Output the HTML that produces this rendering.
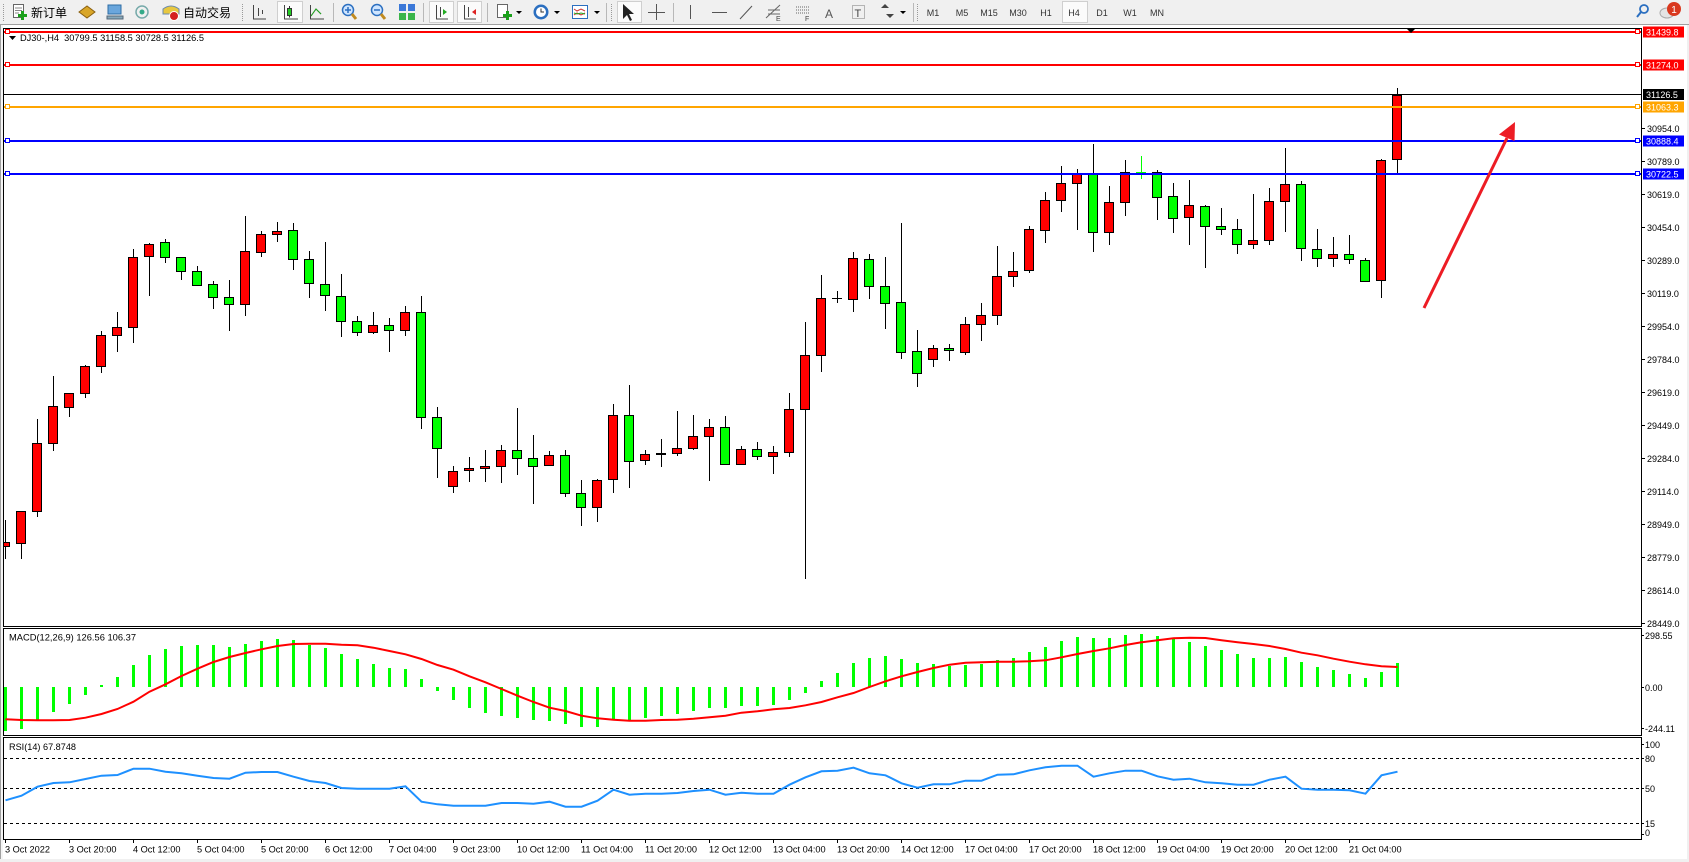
<!DOCTYPE html>
<html><head><meta charset="utf-8">
<style>
html,body{margin:0;padding:0;background:#fff;overflow:hidden;}
svg{display:block;font-family:"Liberation Sans","Noto Sans CJK SC",sans-serif;}
.r{fill:#ff0000;stroke:#000;}
.g{fill:#00ff00;stroke:#000;}
</style></head><body>
<svg width="1689" height="862" viewBox="0 0 1689 862" xmlns="http://www.w3.org/2000/svg">
<defs>
<clipPath id="mc"><rect x="4" y="29" width="1637" height="597"/></clipPath>
</defs>
<rect x="0" y="0" width="1689" height="862" fill="#fff"/>
<!-- toolbar -->
<rect x="0" y="0" width="1689" height="24" fill="#f0f0f0"/>
<line x1="0" y1="24.5" x2="1689" y2="24.5" stroke="#a0a0a0"/>
<g shape-rendering="crispEdges">
<path d="M3.5 4V21M242.5 4V21M611.5 4V21M917.5 4V21" stroke="#9a9a9a" stroke-dasharray="1 1"/>
<path d="M333.5 3V22M423.5 3V22M487.5 3V22M606.5 3V22M673.5 3V22M913.5 3V22" stroke="#b8b8b8"/>
<rect x="277.5" y="1.5" width="25" height="21" fill="#fbfbfb" stroke="#cfcfcf"/>
<rect x="429.5" y="1.5" width="24" height="21" fill="#fbfbfb" stroke="#cfcfcf"/>
<rect x="457.5" y="1.5" width="24" height="21" fill="#fbfbfb" stroke="#cfcfcf"/>
<rect x="617.5" y="1.5" width="24" height="21" fill="#fbfbfb" stroke="#cfcfcf"/>
<rect x="1062.5" y="1.5" width="25" height="21" fill="#fbfbfb" stroke="#cfcfcf"/>
</g>
<!-- new order -->
<rect x="13.5" y="4.5" width="10" height="13" fill="#fff" stroke="#666"/>
<path d="M15 8h7M15 10.5h7M15 13h4" stroke="#888"/>
<path d="M22.5 11v9M18 15.5h9" stroke="#1aa01a" stroke-width="3"/>
<text x="31" y="17" font-size="12" fill="#000">新订单</text>
<path d="M79 12l8-6 8 6-8 6z" fill="#d9a628" stroke="#8a6010"/>
<rect x="108" y="5" width="13" height="9" fill="#6aa6dc" stroke="#2e6da4"/>
<path d="M107 16h16v3h-16z" fill="#8ab" stroke="#567"/>
<circle cx="142" cy="12" r="6" fill="none" stroke="#7aa" stroke-width="1.5"/>
<circle cx="142" cy="12" r="2.5" fill="#3a8"/>
<path d="M163 9q8-6 16 0v5h-16z" fill="#e8c840" stroke="#6a8ab0"/>
<circle cx="174" cy="16" r="4.5" fill="#d42020" stroke="#fff"/>
<text x="183" y="17" font-size="12" fill="#000">自动交易</text>
<!-- chart type icons -->
<path d="M253.5 5V19H266M258.5 8V16M262.5 10V14" stroke="#444" fill="none"/>
<path d="M284.5 5V19H298" stroke="#444" fill="none"/><rect x="287.5" y="8.5" width="4" height="7" fill="#2c2" stroke="#333"/><path d="M289.5 6v2.5M289.5 15.5v2" stroke="#333"/>
<path d="M310.5 5V19H324M311 16l5-7 5 5" stroke="#444" fill="none"/><path d="M311 16l5-7 5 5" stroke="#2a2" fill="none"/>
<circle cx="348" cy="10" r="5.5" fill="#cfe5ff" stroke="#2b6fc0" stroke-width="1.5"/><path d="M345 10h6M348 7v6" stroke="#2b6fc0" stroke-width="1.5"/><path d="M352 14l4 5" stroke="#c08a20" stroke-width="3"/>
<circle cx="377" cy="10" r="5.5" fill="#cfe5ff" stroke="#2b6fc0" stroke-width="1.5"/><path d="M374 10h6" stroke="#2b6fc0" stroke-width="1.5"/><path d="M381 14l4 5" stroke="#c08a20" stroke-width="3"/>
<rect x="399" y="4" width="7" height="7" fill="#3b78d8"/><rect x="408" y="4" width="7" height="7" fill="#3b78d8"/><rect x="399" y="13" width="7" height="7" fill="#3ab54a"/><rect x="408" y="13" width="7" height="7" fill="#3ab54a"/>
<path d="M436.5 5V19H448M440.5 7V17" stroke="#444" fill="none"/><path d="M443 9l4 3-4 3z" fill="#2a2"/>
<path d="M464.5 5V19H476M468.5 7V17" stroke="#444" fill="none"/><path d="M476 9l-4 3 4 3z" fill="#d22"/>
<rect x="497.5" y="4.5" width="10" height="13" fill="#fff" stroke="#666"/><path d="M507.5 11v9M503 15.5h9" stroke="#1aa01a" stroke-width="3"/>
<path d="M516 11h6l-3 3z" fill="#000"/>
<circle cx="541" cy="12" r="7.5" fill="#2b6fc0"/><circle cx="541" cy="12" r="5" fill="#fff"/><path d="M541 8.5V12h3" stroke="#333" fill="none"/>
<path d="M554 11h6l-3 3z" fill="#000"/>
<rect x="572.5" y="5.5" width="15" height="13" fill="#fff" stroke="#2b6fc0"/><path d="M574 9l3 2 4-2 4 2M574 15l3-2 4 2 4-2" stroke="#c33" fill="none"/><path d="M574 13l3 1 4-1 4 1" stroke="#2a2" fill="none"/>
<path d="M594 11h6l-3 3z" fill="#000"/>
<path d="M623 4v15l4-4 3 6 2-1-3-6h5z" fill="#222"/>
<path d="M656.5 4V20M648 12.5h17" stroke="#555"/>
<path d="M690.5 5V19" stroke="#555"/>
<path d="M712 12.5h15" stroke="#555"/>
<path d="M740 19l12-13" stroke="#555"/>
<path d="M766 18l14-13M768 10h12M768 14h12" stroke="#666"/><text x="776" y="21" font-size="7" fill="#444">E</text>
<path d="M796 7h13M796 10h13M796 13h13" stroke="#666" stroke-dasharray="1 1"/><text x="805" y="21" font-size="7" fill="#444">F</text>
<text x="825" y="18" font-size="12" fill="#555">A</text>
<rect x="852.5" y="5.5" width="12" height="13" fill="none" stroke="#777" stroke-dasharray="1 1"/><text x="854.5" y="17" font-size="11" fill="#444">T</text>
<path d="M881 8l4-4 4 4zM886 14l4 4 4-4z" fill="#444"/>
<path d="M900 11h6l-3 3z" fill="#000"/>
<g font-size="9" fill="#333" text-anchor="middle">
<text x="933" y="16">M1</text><text x="962" y="16">M5</text><text x="989" y="16">M15</text><text x="1018" y="16">M30</text><text x="1046" y="16">H1</text><text x="1074" y="16">H4</text><text x="1102" y="16">D1</text><text x="1130" y="16">W1</text><text x="1157" y="16">MN</text>
</g>
<circle cx="1644" cy="9" r="4" fill="none" stroke="#2b6fc0" stroke-width="1.8"/><path d="M1641 12l-4 5" stroke="#2b6fc0" stroke-width="2"/>
<ellipse cx="1667" cy="13" rx="7" ry="5" fill="#e4e4e4" stroke="#aaa"/>
<circle cx="1674" cy="9" r="7" fill="#d9381e"/><text x="1674" y="13" font-size="10" fill="#fff" text-anchor="middle">1</text>

<!-- window frame -->
<rect x="0" y="25" width="1" height="837" fill="#a0a0a0"/>
<rect x="1" y="25" width="2" height="837" fill="#f4f4f4"/>
<rect x="1687" y="25" width="2" height="837" fill="#f0f0f0"/>
<rect x="0" y="859" width="1689" height="3" fill="#f0f0f0"/>

<!-- candles -->
<g clip-path="url(#mc)" shape-rendering="crispEdges">
<path fill="none" stroke="#000" d="M5.5 520V559M21.5 511V559M37.5 419V517M53.5 376V451M69.5 393V417M85.5 365V398M101.5 331V373M117.5 312V352M133.5 249V343M149.5 243V296M165.5 239V263M181.5 257V280M197.5 266V286M213.5 281V309M229.5 280V331M245.5 216V316M261.5 231V257M277.5 222V242M293.5 223V270M309.5 251V298M325.5 242V311M341.5 274V337M357.5 316V336M373.5 312V334M389.5 318V352M405.5 306V336M421.5 296V429M437.5 407V478M453.5 466V493M469.5 457V482M485.5 450V482M501.5 445V483M517.5 408V475M533.5 435V504M549.5 451V466M565.5 450V497M581.5 480V526M597.5 479V522M613.5 404V493M629.5 385V488M645.5 450V465M661.5 439V467M677.5 411V456M693.5 415V450M709.5 419V481M725.5 416V465M741.5 446V465M757.5 442V460M773.5 446V474M789.5 393V457M805.5 322V579M821.5 275V372M837.5 291V303M853.5 252V312M869.5 254V299M885.5 257V329M901.5 223V359M917.5 330V387M933.5 345V367M949.5 344V361M965.5 317V355M981.5 303V341M997.5 246V325M1013.5 252V287M1029.5 226V273M1045.5 192V243M1061.5 166V212M1077.5 169V230M1093.5 144V252M1109.5 186V245M1125.5 160V216M1157.5 170V220M1173.5 183V233M1189.5 180V245M1205.5 205V268M1221.5 208V235M1237.5 219V254M1253.5 194V249M1269.5 188V245M1285.5 148V232M1301.5 181V261M1317.5 229V267M1333.5 237V267M1349.5 235V264M1365.5 258V282M1381.5 159V298M1397.5 88V173M832 298.5h10"/>
<path fill="none" stroke="#00ff00" d="M1141.5 156V179M1136 172.5h10"/>
<rect x="656" y="453" width="10" height="2" fill="#000"/>
<rect class="r" x="0.5" y="542.5" width="9" height="4"/>
<rect class="r" x="16.5" y="511.5" width="9" height="32"/>
<rect class="r" x="32.5" y="443.5" width="9" height="68"/>
<rect class="r" x="48.5" y="406.5" width="9" height="37"/>
<rect class="r" x="64.5" y="393.5" width="9" height="14"/>
<rect class="r" x="80.5" y="366.5" width="9" height="27"/>
<rect class="r" x="96.5" y="335.5" width="9" height="31"/>
<rect class="r" x="112.5" y="327.5" width="9" height="8"/>
<rect class="r" x="128.5" y="257.5" width="9" height="70"/>
<rect class="r" x="144.5" y="244.5" width="9" height="12"/>
<rect class="g" x="160.5" y="242.5" width="9" height="15"/>
<rect class="g" x="176.5" y="257.5" width="9" height="14"/>
<rect class="g" x="192.5" y="271.5" width="9" height="14"/>
<rect class="g" x="208.5" y="284.5" width="9" height="13"/>
<rect class="g" x="224.5" y="297.5" width="9" height="7"/>
<rect class="r" x="240.5" y="251.5" width="9" height="53"/>
<rect class="r" x="256.5" y="234.5" width="9" height="18"/>
<rect class="r" x="272.5" y="231.5" width="9" height="3"/>
<rect class="g" x="288.5" y="230.5" width="9" height="29"/>
<rect class="g" x="304.5" y="259.5" width="9" height="24"/>
<rect class="g" x="320.5" y="284.5" width="9" height="11"/>
<rect class="g" x="336.5" y="296.5" width="9" height="25"/>
<rect class="g" x="352.5" y="321.5" width="9" height="11"/>
<rect class="r" x="368.5" y="325.5" width="9" height="7"/>
<rect class="g" x="384.5" y="325.5" width="9" height="5"/>
<rect class="r" x="400.5" y="312.5" width="9" height="18"/>
<rect class="g" x="416.5" y="312.5" width="9" height="105"/>
<rect class="g" x="432.5" y="417.5" width="9" height="31"/>
<rect class="r" x="448.5" y="471.5" width="9" height="15"/>
<rect class="r" x="464.5" y="468.5" width="9" height="2"/>
<rect class="r" x="480.5" y="466.5" width="9" height="2"/>
<rect class="r" x="496.5" y="450.5" width="9" height="16"/>
<rect class="g" x="512.5" y="450.5" width="9" height="8"/>
<rect class="g" x="528.5" y="458.5" width="9" height="8"/>
<rect class="r" x="544.5" y="455.5" width="9" height="10"/>
<rect class="g" x="560.5" y="455.5" width="9" height="38"/>
<rect class="g" x="576.5" y="493.5" width="9" height="14"/>
<rect class="r" x="592.5" y="480.5" width="9" height="27"/>
<rect class="r" x="608.5" y="415.5" width="9" height="64"/>
<rect class="g" x="624.5" y="415.5" width="9" height="46"/>
<rect class="r" x="640.5" y="454.5" width="9" height="6"/>
<rect class="r" x="672.5" y="448.5" width="9" height="5"/>
<rect class="r" x="688.5" y="436.5" width="9" height="12"/>
<rect class="r" x="704.5" y="427.5" width="9" height="9"/>
<rect class="g" x="720.5" y="427.5" width="9" height="37"/>
<rect class="r" x="736.5" y="449.5" width="9" height="15"/>
<rect class="g" x="752.5" y="449.5" width="9" height="7"/>
<rect class="r" x="768.5" y="452.5" width="9" height="4"/>
<rect class="r" x="784.5" y="409.5" width="9" height="43"/>
<rect class="r" x="800.5" y="355.5" width="9" height="54"/>
<rect class="r" x="816.5" y="298.5" width="9" height="57"/>
<rect class="r" x="848.5" y="258.5" width="9" height="41"/>
<rect class="g" x="864.5" y="259.5" width="9" height="27"/>
<rect class="g" x="880.5" y="286.5" width="9" height="17"/>
<rect class="g" x="896.5" y="302.5" width="9" height="50"/>
<rect class="g" x="912.5" y="351.5" width="9" height="22"/>
<rect class="r" x="928.5" y="348.5" width="9" height="11"/>
<rect class="g" x="944.5" y="348.5" width="9" height="2"/>
<rect class="r" x="960.5" y="324.5" width="9" height="28"/>
<rect class="r" x="976.5" y="315.5" width="9" height="9"/>
<rect class="r" x="992.5" y="276.5" width="9" height="39"/>
<rect class="r" x="1008.5" y="271.5" width="9" height="5"/>
<rect class="r" x="1024.5" y="229.5" width="9" height="41"/>
<rect class="r" x="1040.5" y="200.5" width="9" height="30"/>
<rect class="r" x="1056.5" y="183.5" width="9" height="17"/>
<rect class="r" x="1072.5" y="174.5" width="9" height="9"/>
<rect class="g" x="1088.5" y="174.5" width="9" height="58"/>
<rect class="r" x="1104.5" y="202.5" width="9" height="30"/>
<rect class="r" x="1120.5" y="172.5" width="9" height="30"/>
<rect class="g" x="1152.5" y="172.5" width="9" height="25"/>
<rect class="g" x="1168.5" y="196.5" width="9" height="22"/>
<rect class="r" x="1184.5" y="205.5" width="9" height="12"/>
<rect class="g" x="1200.5" y="206.5" width="9" height="20"/>
<rect class="g" x="1216.5" y="226.5" width="9" height="3"/>
<rect class="g" x="1232.5" y="229.5" width="9" height="15"/>
<rect class="r" x="1248.5" y="240.5" width="9" height="4"/>
<rect class="r" x="1264.5" y="201.5" width="9" height="39"/>
<rect class="r" x="1280.5" y="184.5" width="9" height="17"/>
<rect class="g" x="1296.5" y="184.5" width="9" height="64"/>
<rect class="g" x="1312.5" y="249.5" width="9" height="9"/>
<rect class="r" x="1328.5" y="254.5" width="9" height="4"/>
<rect class="g" x="1344.5" y="254.5" width="9" height="5"/>
<rect class="g" x="1360.5" y="260.5" width="9" height="21"/>
<rect class="r" x="1376.5" y="160.5" width="9" height="120"/>
<rect class="r" x="1392.5" y="95.5" width="9" height="64"/>

<!-- horizontal lines -->
<path d="M4 94.5H1641" stroke="#000"/>
<path d="M4 32H1641M4 65H1641" stroke="#ff0000" stroke-width="2"/>
<path d="M4 107H1641" stroke="#ffa500" stroke-width="2"/>
<path d="M4 141H1641M4 174H1641" stroke="#0000ff" stroke-width="2"/>
<g fill="#fff" stroke-width="1">
<rect x="5.5" y="29.5" width="4" height="4" stroke="#ff0000"/><rect x="1635.5" y="29.5" width="4" height="4" stroke="#ff0000"/>
<rect x="5.5" y="62.5" width="4" height="4" stroke="#ff0000"/><rect x="1635.5" y="62.5" width="4" height="4" stroke="#ff0000"/>
<rect x="5.5" y="104.5" width="4" height="4" stroke="#ffa500"/><rect x="1635.5" y="104.5" width="4" height="4" stroke="#ffa500"/>
<rect x="5.5" y="138.5" width="4" height="4" stroke="#0000ff"/><rect x="1635.5" y="138.5" width="4" height="4" stroke="#0000ff"/>
<rect x="5.5" y="171.5" width="4" height="4" stroke="#0000ff"/><rect x="1635.5" y="171.5" width="4" height="4" stroke="#0000ff"/>
</g>
</g>
<!-- arrow -->
<path d="M1424 308L1507 138" stroke="#ed1c24" stroke-width="3" fill="none"/>
<path d="M1515 122L1499 134.5L1514.5 141Z" fill="#ed1c24"/>
<!-- shift marker -->
<path d="M1407 29h8l-4 4z" fill="#000"/>

<!-- panel frames -->
<g fill="none" stroke="#000" shape-rendering="crispEdges">
<rect x="3.5" y="28.5" width="1638" height="598"/>
<rect x="3.5" y="628.5" width="1638" height="107"/>
<rect x="3.5" y="737.5" width="1638" height="102"/>
</g>

<!-- title -->
<path d="M9 36h7l-3.5 4z" fill="#000"/>
<text x="20" y="41" font-size="9" fill="#000" textLength="184" lengthAdjust="spacingAndGlyphs">DJ30-,H4&#160; 30799.5 31158.5 30728.5 31126.5</text>

<!-- price axis -->
<g stroke="#000" shape-rendering="crispEdges">
<path d="M1641 128.5h4M1641 161.5h4M1641 194.5h4M1641 227.5h4M1641 260.5h4M1641 293.5h4M1641 326.5h4M1641 359.5h4M1641 392.5h4M1641 425.5h4M1641 458.5h4M1641 491.5h4M1641 524.5h4M1641 557.5h4M1641 590.5h4M1641 623.5h4M1641 635.5h3M1641 687.5h3M1641 728.5h3M1641 744.5h3M1641 758.5h3M1641 788.5h3M1641 823.5h3M1641 834.5h3"/>
</g>
<g font-size="9" fill="#000">
<text x="1647" y="132">30954.0</text>
<text x="1647" y="165">30789.0</text>
<text x="1647" y="198">30619.0</text>
<text x="1647" y="231">30454.0</text>
<text x="1647" y="264">30289.0</text>
<text x="1647" y="297">30119.0</text>
<text x="1647" y="330">29954.0</text>
<text x="1647" y="363">29784.0</text>
<text x="1647" y="396">29619.0</text>
<text x="1647" y="429">29449.0</text>
<text x="1647" y="462">29284.0</text>
<text x="1647" y="495">29114.0</text>
<text x="1647" y="528">28949.0</text>
<text x="1647" y="561">28779.0</text>
<text x="1647" y="594">28614.0</text>
<text x="1647" y="627">28449.0</text>
<text x="1645" y="639">298.55</text>
<text x="1645" y="691">0.00</text>
<text x="1645" y="732">-244.11</text>
<text x="1645" y="748">100</text>
<text x="1645" y="762">80</text>
<text x="1645" y="792">50</text>
<text x="1645" y="827">15</text>
<text x="1645" y="836">0</text>
</g>
<!-- colored price labels -->
<rect x="1643" y="26.5" width="41" height="11" fill="#ff0000"/>
<rect x="1643" y="59.5" width="41" height="11" fill="#ff0000"/>
<rect x="1643" y="89" width="41" height="11" fill="#000"/>
<rect x="1643" y="101.5" width="41" height="11" fill="#ffa500"/>
<rect x="1643" y="135.5" width="41" height="11" fill="#0000ff"/>
<rect x="1643" y="168.5" width="41" height="11" fill="#0000ff"/>
<g font-size="9" fill="#fff">
<text x="1646" y="35.5">31439.8</text>
<text x="1646" y="68.5">31274.0</text>
<text x="1646" y="98">31126.5</text>
<text x="1646" y="110.5">31063.3</text>
<text x="1646" y="144.5">30888.4</text>
<text x="1646" y="177.5">30722.5</text>
</g>

<!-- MACD -->
<text x="9" y="640.5" font-size="9" fill="#000" textLength="127" lengthAdjust="spacingAndGlyphs">MACD(12,26,9) 126.56 106.37</text>
<path fill="none" stroke="#00ff00" stroke-width="3" shape-rendering="crispEdges" d="M5.5 687V731M21.5 687V729M37.5 687V720M53.5 687V712M69.5 687V704M85.5 687V695M101.5 687V685M117.5 687V677M133.5 687V665M149.5 687V655M165.5 687V649M181.5 687V646M197.5 687V645M213.5 687V645M229.5 687V647M245.5 687V644M261.5 687V641M277.5 687V639M293.5 687V640M309.5 687V645M325.5 687V648M341.5 687V654M357.5 687V659M373.5 687V664M389.5 687V668M405.5 687V669M421.5 687V679M437.5 687V691M453.5 687V700M469.5 687V708M485.5 687V713M501.5 687V716M517.5 687V718M533.5 687V720M549.5 687V721M565.5 687V724M581.5 687V727M597.5 687V727M613.5 687V720M629.5 687V720M645.5 687V718M661.5 687V716M677.5 687V714M693.5 687V711M709.5 687V708M725.5 687V708M741.5 687V706M757.5 687V706M773.5 687V705M789.5 687V700M805.5 687V693M821.5 687V681M837.5 687V673M853.5 687V663M869.5 687V658M885.5 687V656M901.5 687V659M917.5 687V663M933.5 687V664M949.5 687V666M965.5 687V665M981.5 687V664M997.5 687V660M1013.5 687V658M1029.5 687V652M1045.5 687V647M1061.5 687V641M1077.5 687V637M1093.5 687V638M1109.5 687V638M1125.5 687V635M1141.5 687V634M1157.5 687V636M1173.5 687V639M1189.5 687V642M1205.5 687V646M1221.5 687V650M1237.5 687V654M1253.5 687V658M1269.5 687V658M1285.5 687V657M1301.5 687V662M1317.5 687V667M1333.5 687V670M1349.5 687V674M1365.5 687V678M1381.5 687V672M1397.5 687V663"/>
<polyline fill="none" stroke="#ff0000" stroke-width="2" points="5.5,719.3 21.5,720 37.5,720.3 53.5,720.3 69.5,720 85.5,717.7 101.5,714 117.5,709 133.5,701.7 149.5,691.7 165.5,684.3 181.5,676 197.5,668.7 213.5,662 229.5,657 245.5,653 261.5,649.3 277.5,646 293.5,644 309.5,643.7 325.5,643.7 341.5,644.7 357.5,645.3 373.5,647.7 389.5,651 405.5,654.3 421.5,659 437.5,665 453.5,669.7 469.5,676.3 485.5,682.3 501.5,689 517.5,695.7 533.5,702 549.5,707.7 565.5,711 581.5,715.7 597.5,718.3 613.5,719.7 629.5,720.7 645.5,720.7 661.5,720 677.5,719.7 693.5,718.7 709.5,717.3 725.5,715.7 741.5,712.7 757.5,711.3 773.5,709.3 789.5,708 805.5,705.3 821.5,702 837.5,697.3 853.5,693 869.5,687 885.5,681.3 901.5,676.3 917.5,672 933.5,668 949.5,664.7 965.5,662.7 981.5,662.3 997.5,661.7 1013.5,661.7 1029.5,661.3 1045.5,660.3 1061.5,657.3 1077.5,654 1093.5,651 1109.5,648.3 1125.5,645 1141.5,642.3 1157.5,640.3 1173.5,638.3 1189.5,637.7 1205.5,638 1221.5,640.3 1237.5,642.3 1253.5,644 1269.5,646 1285.5,649 1301.5,652.7 1317.5,655.3 1333.5,658.7 1349.5,661.7 1365.5,664.3 1381.5,666.3 1397.5,667"/>

<!-- RSI -->
<text x="9" y="750" font-size="9" fill="#000" textLength="67" lengthAdjust="spacingAndGlyphs">RSI(14) 67.8748</text>
<path d="M4 758.5H1641M4 788.5H1641M4 823.5H1641" stroke="#000" stroke-dasharray="3 3" shape-rendering="crispEdges"/>
<polyline fill="none" stroke="#1e90ff" stroke-width="2" points="5.5,800.3 21.5,795.7 37.5,786.7 53.5,783 69.5,782.3 85.5,779 101.5,775.7 117.5,775 133.5,768.7 149.5,768.7 165.5,771.7 181.5,773.3 197.5,775.7 213.5,778 229.5,778.7 245.5,772.7 261.5,772 277.5,772 293.5,776.7 309.5,781 325.5,783 341.5,788 357.5,788.7 373.5,788.7 389.5,788.7 405.5,786.3 421.5,801.7 437.5,804.3 453.5,805.7 469.5,805.7 485.5,805.7 501.5,803 517.5,803 533.5,803.7 549.5,801.7 565.5,806.7 581.5,806.7 597.5,800.7 613.5,789.7 629.5,794.7 645.5,793.7 661.5,793.7 677.5,793 693.5,791 709.5,789.7 725.5,794.7 741.5,792.7 757.5,793.7 773.5,793.7 789.5,784.7 805.5,777.3 821.5,771.3 837.5,770.7 853.5,767.7 869.5,773.3 885.5,775.3 901.5,783.3 917.5,787.7 933.5,784.3 949.5,784.3 965.5,780.7 981.5,780.7 997.5,774.7 1013.5,774.3 1029.5,770.3 1045.5,767.3 1061.5,765.7 1077.5,765.7 1093.5,776.7 1109.5,773.3 1125.5,770.7 1141.5,770.7 1157.5,776.3 1173.5,779.7 1189.5,778.7 1205.5,782.3 1221.5,783.3 1237.5,784.7 1253.5,784.7 1269.5,779.7 1285.5,776.7 1301.5,788.7 1317.5,789.7 1333.5,789.7 1349.5,790.3 1365.5,793.7 1381.5,775.3 1397.5,771.7"/>

<!-- time axis -->
<path stroke="#000" shape-rendering="crispEdges" d="M5.5 839V843M69.5 839V843M133.5 839V843M197.5 839V843M261.5 839V843M325.5 839V843M389.5 839V843M453.5 839V843M517.5 839V843M581.5 839V843M645.5 839V843M709.5 839V843M773.5 839V843M837.5 839V843M901.5 839V843M965.5 839V843M1029.5 839V843M1093.5 839V843M1157.5 839V843M1221.5 839V843M1285.5 839V843M1349.5 839V843"/>
<g font-size="9.2" fill="#000">
<text x="5" y="852.5">3 Oct 2022</text>
<text x="69" y="852.5">3 Oct 20:00</text>
<text x="133" y="852.5">4 Oct 12:00</text>
<text x="197" y="852.5">5 Oct 04:00</text>
<text x="261" y="852.5">5 Oct 20:00</text>
<text x="325" y="852.5">6 Oct 12:00</text>
<text x="389" y="852.5">7 Oct 04:00</text>
<text x="453" y="852.5">9 Oct 23:00</text>
<text x="517" y="852.5">10 Oct 12:00</text>
<text x="581" y="852.5">11 Oct 04:00</text>
<text x="645" y="852.5">11 Oct 20:00</text>
<text x="709" y="852.5">12 Oct 12:00</text>
<text x="773" y="852.5">13 Oct 04:00</text>
<text x="837" y="852.5">13 Oct 20:00</text>
<text x="901" y="852.5">14 Oct 12:00</text>
<text x="965" y="852.5">17 Oct 04:00</text>
<text x="1029" y="852.5">17 Oct 20:00</text>
<text x="1093" y="852.5">18 Oct 12:00</text>
<text x="1157" y="852.5">19 Oct 04:00</text>
<text x="1221" y="852.5">19 Oct 20:00</text>
<text x="1285" y="852.5">20 Oct 12:00</text>
<text x="1349" y="852.5">21 Oct 04:00</text>
</g>
</svg>
</body></html>
